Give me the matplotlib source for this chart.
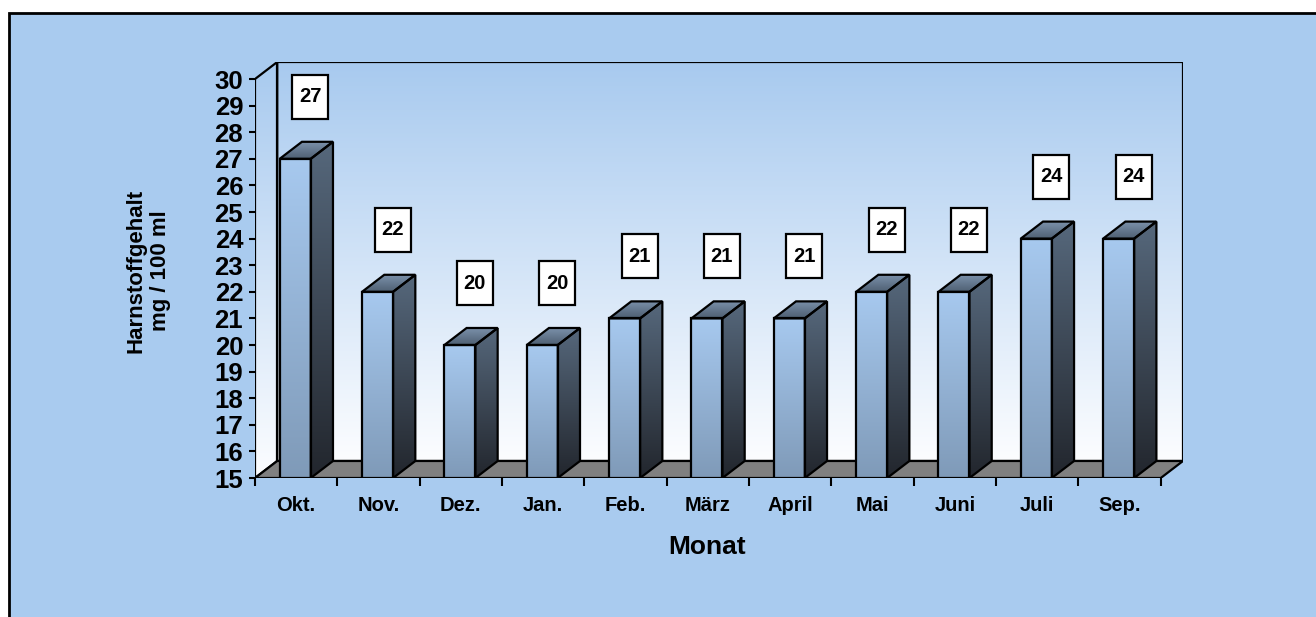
import numpy as np
import matplotlib.pyplot as plt
from matplotlib.patches import Polygon, Rectangle
from matplotlib.colors import LinearSegmentedColormap

# data
monate = ['Okt.', 'Nov.', 'Dez.', 'Jan.', 'Feb.', 'März', 'April', 'Mai', 'Juni', 'Juli', 'Sep.']
harnstoff = [27, 22, 20, 20, 21, 21, 21, 22, 22, 24, 24]
y_ticks = list(range(15, 31))
y_min, y_max = 15, 30

plt.rcParams['font.family'] = ['Liberation Sans', 'DejaVu Sans']
plt.rcParams['font.weight'] = 'bold'

W, H = 1316, 617
fig = plt.figure(figsize=(W / 100, H / 100), dpi=100)
fig.patch.set_facecolor('white')
fig.add_artist(Rectangle((9 / W, -0.1), 1.2, (H - 13) / H + 0.1, transform=fig.transFigure,
                         facecolor='#a9cbef', edgecolor='black', lw=2, zorder=0))

ax = fig.add_axes([255 / W, (H - 478) / H, 928 / W, 416 / H])
ax.set_facecolor('none')
for s in ax.spines.values():
    s.set_visible(False)

n = len(monate)
DX, DY = 0.27, 0.64  # depth offset in data units


def grad_poly(verts, c_top, c_bot, z):
    poly = Polygon(verts, closed=True, facecolor='none', edgecolor='black', lw=1.6, zorder=z + 0.1)
    ax.add_patch(poly)
    xs = [p[0] for p in verts]
    ys = [p[1] for p in verts]
    cmap = LinearSegmentedColormap.from_list('g', [c_top, c_bot])
    img = np.linspace(0, 1, 256).reshape(-1, 1)
    im = ax.imshow(img, cmap=cmap, extent=[min(xs), max(xs), min(ys), max(ys)],
                   origin='upper', aspect='auto', zorder=z, interpolation='bilinear')
    im.set_clip_path(poly)


# walls
grad_poly([(DX, y_min + DY), (n + DX, y_min + DY), (n + DX, y_max + DY), (DX, y_max + DY)],
          '#a8caef', '#fcfdff', 1)
grad_poly([(0, y_min), (DX, y_min + DY), (DX, y_max + DY), (0, y_max)],
          '#a8caef', '#fcfdff', 1)
ax.add_patch(Polygon([(0, y_min), (n, y_min), (n + DX, y_min + DY), (DX, y_min + DY)],
                     closed=True, facecolor='#808080', edgecolor='black', lw=1.6, zorder=2))

# bars
off, bw = 0.30, 0.377
for i, v in enumerate(harnstoff):
    x0 = i + off
    x1 = x0 + bw
    grad_poly([(x0, y_min), (x1, y_min), (x1, v), (x0, v)], '#a7c9ef', '#7f9ab8', 3)
    grad_poly([(x1, y_min), (x1 + DX, y_min + DY), (x1 + DX, v + DY), (x1, v)], '#56687c', '#22262d', 3)
    grad_poly([(x0, v), (x1, v), (x1 + DX, v + DY), (x0 + DX, v + DY)], '#7d93ad', '#4e5f72', 3)

    # value label box
    cx, cy = i + 0.5 + 0.17, v + 2.33
    bwid, bhei = 0.437, 1.654
    ax.add_patch(Rectangle((cx - bwid / 2, cy - bhei / 2), bwid, bhei, facecolor='white',
                           edgecolor='black', lw=1.6, zorder=5))
    ax.text(cx, cy, str(v), ha='center', va='center', fontsize=14.5, fontweight='bold', zorder=6)

ax.set_xlim(0, n + DX)
ax.set_ylim(y_min, y_max + DY)

ax.set_yticks(y_ticks)
ax.set_yticklabels([str(t) for t in y_ticks], fontsize=18.5, fontweight='bold')
ax.tick_params(axis='y', direction='out', length=4.5, width=1.5, pad=4)

ax.set_xticks(np.arange(n + 1))
ax.set_xticklabels([])
ax.set_xticks(np.arange(n) + 0.5, minor=True)
ax.set_xticklabels(monate, minor=True, fontsize=14.5, fontweight='bold')
ax.tick_params(axis='x', which='major', direction='out', length=6, width=1.5)
ax.tick_params(axis='x', which='minor', length=0, pad=13)

fig.text(148 / W, 1 - 271 / H, 'Harnstoffgehalt\nmg / 100 ml', rotation=90, ha='center', va='center',
         fontsize=16, fontweight='bold', multialignment='center', linespacing=1.25)
fig.text(707 / W, 1 - 547 / H, 'Monat', ha='center', va='center', fontsize=19, fontweight='bold')

fig.savefig('out.png', dpi=100)
